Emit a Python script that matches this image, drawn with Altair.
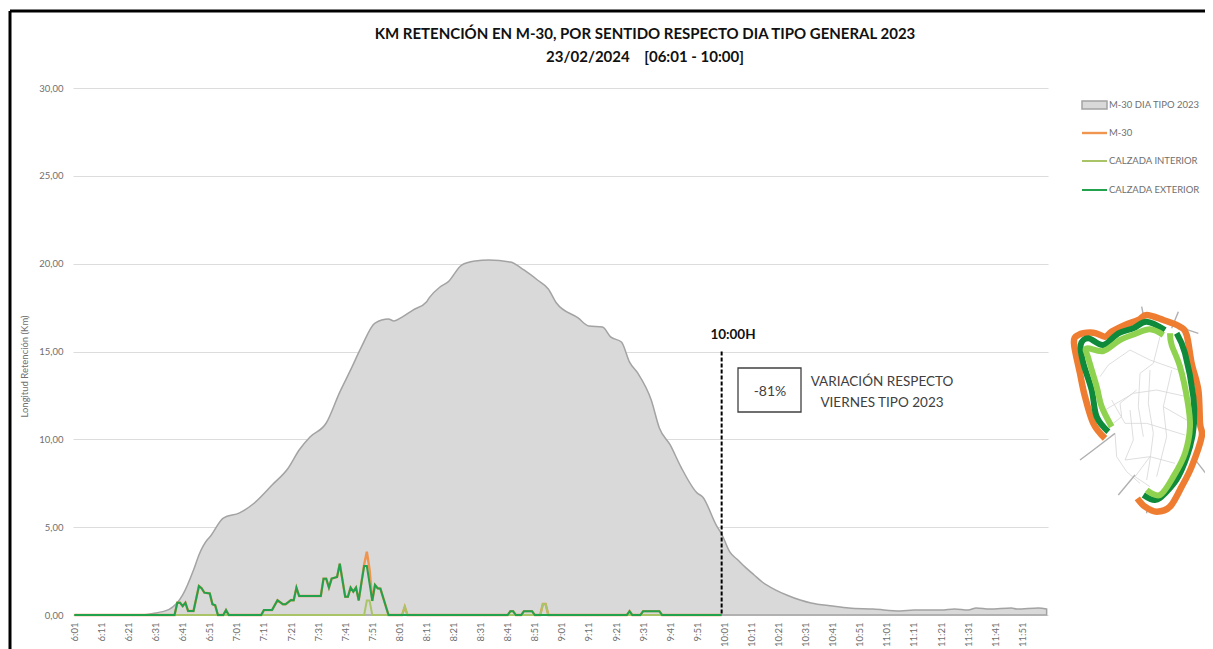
import altair as alt
import pandas as pd

# Clock labels: minute 0 = 6:01
tick_minutes = list(range(0, 360, 10))

base_min = [0, 24, 29, 35, 40, 44, 46, 49, 50, 55, 61, 66, 73, 79, 83, 87, 93, 98, 102, 106, 111, 116, 118, 121, 125, 130, 131, 135, 138, 143, 148, 153, 161, 166, 171, 175, 178, 186, 190, 195, 198, 202, 205, 208, 213, 216, 220, 224, 230, 232, 237, 239, 242, 245, 248, 251, 254, 259, 263, 268, 272, 280, 286, 295, 305, 310, 320, 325, 330, 333, 338, 346, 348, 356, 359]
base_km = [0, 0, 0.09, 0.32, 1.14, 2.56, 3.42, 4.27, 4.44, 5.52, 5.81, 6.32, 7.40, 8.37, 9.39, 10.13, 10.93, 12.69, 13.95, 15.26, 16.62, 16.85, 16.74, 16.96, 17.36, 17.82, 18.05, 18.67, 18.96, 19.92, 20.15, 20.21, 20.09, 19.64, 19.07, 18.56, 17.76, 16.91, 16.45, 16.39, 15.83, 15.54, 14.40, 13.78, 12.24, 10.65, 9.68, 8.42, 6.94, 6.72, 5.12, 4.61, 3.59, 3.13, 2.68, 2.28, 1.88, 1.42, 1.14, 0.85, 0.68, 0.51, 0.40, 0.34, 0.23, 0.28, 0.28, 0.34, 0.28, 0.40, 0.34, 0.40, 0.34, 0.40, 0.34]

ext_min = [0, 37, 38, 39, 40, 41, 42, 44, 46, 47, 48, 50, 51, 52, 53, 55, 56, 57, 69, 70, 73, 75, 77, 78, 80, 81, 82, 83, 91, 92, 93, 94, 95, 97, 98, 100, 101, 102, 103, 104, 105, 106, 107, 108, 110, 111, 112, 113, 116, 160, 161, 162, 163, 165, 166, 169, 170, 204, 205, 206, 209, 210, 216, 217, 239]
ext_km = [0, 0, 0.70, 0.70, 0.51, 0.70, 0.23, 0.23, 1.65, 1.52, 1.27, 1.23, 0.61, 0.55, 0, 0, 0.28, 0, 0, 0.28, 0.28, 0.84, 0.61, 0.61, 0.85, 0.84, 1.56, 1.08, 1.08, 2.07, 2.07, 1.56, 2.07, 2.16, 2.92, 1.04, 1.04, 1.56, 1.33, 1.56, 0.83, 1.84, 2.79, 2.79, 0.80, 1.71, 1.52, 1.50, 0, 0, 0.22, 0.22, 0, 0, 0.22, 0.22, 0, 0, 0.22, 0, 0, 0.22, 0.22, 0, 0]

int_min = [0, 107, 108, 109, 110, 121, 122, 123, 172, 173, 174, 175, 239]
int_km = [0, 0, 0.83, 0.83, 0, 0, 0.47, 0, 0, 0.63, 0.63, 0, 0]

m30_min = [0, 37, 38, 39, 40, 41, 42, 44, 46, 47, 48, 50, 51, 52, 53, 55, 56, 57, 69, 70, 73, 75, 77, 78, 80, 81, 82, 83, 91, 92, 93, 94, 95, 97, 98, 100, 101, 102, 103, 104, 105, 106, 107, 108, 109, 110, 111, 112, 113, 116, 121, 122, 123, 160, 161, 162, 163, 165, 166, 169, 170, 172, 173, 174, 175, 204, 205, 206, 209, 210, 216, 217, 239]
m30_km = [0, 0, 0.70, 0.70, 0.51, 0.70, 0.23, 0.23, 1.65, 1.52, 1.27, 1.23, 0.61, 0.55, 0, 0, 0.28, 0, 0, 0.28, 0.28, 0.84, 0.61, 0.61, 0.85, 0.84, 1.56, 1.08, 1.08, 2.07, 2.07, 1.56, 2.07, 2.16, 2.92, 1.04, 1.04, 1.56, 1.33, 1.56, 0.83, 1.84, 2.88, 3.60, 2.60, 0.80, 1.71, 1.52, 1.50, 0, 0, 0.47, 0, 0, 0.22, 0.22, 0, 0, 0.22, 0.22, 0, 0, 0.63, 0.63, 0, 0, 0.22, 0, 0, 0.22, 0.22, 0, 0]

legend_labels = ["M-30 DIA TIPO 2023", "M-30", "CALZADA INTERIOR", "CALZADA EXTERIOR"]

# Schematic map of the ring, in the map's own units
map_orange = [(165, 445), (130, 400), (105, 320), (90, 250), (72, 160), (85, 135), (130, 128), (165, 140), (185, 125), (225, 105), (265, 90), (290, 75), (340, 90), (390, 110), (410, 135), (425, 220), (445, 300), (450, 400), (455, 440), (425, 530), (395, 590), (360, 650), (320, 665), (285, 650), (262, 625)]
map_dark = [[(175, 425), (140, 380), (125, 300), (100, 220), (92, 165), (115, 145), (160, 165), (205, 130), (250, 115), (290, 95), (345, 120)],
            [(380, 130), (405, 190), (430, 320), (432, 400), (420, 470), (385, 560), (345, 610), (315, 630), (280, 615)]]
map_light = [[(185, 410), (155, 350), (140, 290), (115, 205), (110, 175), (160, 183), (210, 150), (255, 132), (300, 118), (340, 135)],
             [(360, 130), (365, 165), (390, 230), (412, 330), (420, 410), (405, 490), (370, 560), (330, 615), (290, 600)]]
map_spokes = [[(275, 50), (280, 75)], [(385, 65), (365, 115)], [(400, 115), (445, 130)],
              [(195, 430), (130, 480), (90, 510)], [(440, 515), (475, 560)], [(255, 555), (205, 615)], [(290, 650), (290, 670)]]
map_streets = [[(330, 140), (310, 220), (270, 250), (265, 350), (280, 440)],
               [(150, 260), (175, 225), (240, 180), (300, 210), (385, 240)],
               [(165, 360), (250, 310), (320, 300), (410, 320)],
               [(185, 330), (225, 400), (290, 400), (405, 435)],
               [(300, 240), (295, 340), (310, 430), (300, 510), (290, 570)],
               [(195, 430), (200, 500), (230, 545), (270, 580)],
               [(225, 510), (300, 500), (375, 520)],
               [(340, 350), (350, 440), (320, 560)],
               [(260, 300), (210, 340), (215, 380), (190, 400)],
               [(365, 240), (340, 350), (410, 390)],
               [(240, 360), (250, 450), (225, 510)],
               [(300, 500), (255, 560), (300, 590)]]


def series(mins, kms):
    return pd.DataFrame({"m": mins, "km": kms})


def poly(paths):
    rows = []
    for pid, path in enumerate(paths):
        for order, (px, py) in enumerate(path):
            rows.append({"id": pid, "o": order, "mx": px, "my": py})
    return pd.DataFrame(rows)


x_scale = alt.Scale(domain=[-0.5, 359.5], nice=False, zero=False)
y_scale = alt.Scale(domain=[0, 30], nice=False)
x_plain = alt.X("m:Q", scale=x_scale, axis=None)
y_plain = alt.Y("km:Q", scale=y_scale, axis=None)

x_axis = alt.Axis(
    values=tick_minutes, title=None, ticks=False, grid=False, labelAngle=-90, labelAlign="right", labelBaseline="middle",
    labelExpr="(floor((datum.value+361)/60)) + ':' + (((datum.value+1)%60) < 10 ? '0' : '') + ((datum.value+1)%60)",
    labelFont="Lato", labelFontSize=9.5, labelColor="#6f6f6f", labelPadding=7, labelOverlap=False,
    domain=False, labelFlush=False,
)
y_axis = alt.Axis(
    values=[0, 5, 10, 15, 20, 25, 30], title="Longitud Retención (Km)", ticks=False, domain=False,
    grid=True, gridColor="#dcdcdc", gridWidth=1,
    labelExpr="replace(format(datum.value, '.2f'), '.', ',')",
    labelFont="Lato", labelFontSize=9.5, labelColor="#6f6f6f", labelPadding=10,
    titleFont="Lato", titleFontSize=9.5, titleFontWeight="normal", titleColor="#6f6f6f",
    titleX=-44, titleY=278,
)

area = alt.Chart(series(base_min, base_km)).mark_area(
    color="#d9d9d9", stroke="#a3a3a3", strokeWidth=1.5, interpolate="monotone"
).encode(x=alt.X("m:Q", scale=x_scale, axis=x_axis), y=alt.Y("km:Q", scale=y_scale, axis=y_axis))


def line(mins, kms, color, width):
    return alt.Chart(series(mins, kms)).mark_line(color=color, strokeWidth=width).encode(x=x_plain, y=y_plain)


line_m30 = line(m30_min, m30_km, "#f0954f", 2.4)
line_int = line(int_min, int_km, "#a9c466", 2)
line_ext = line(ext_min, ext_km, "#22a24c", 2)

cut = alt.Chart(pd.DataFrame({"m": [239], "km": [15], "km0": [0]})).mark_rule(
    color="#000000", strokeWidth=2, strokeDash=[4, 2]
).encode(x=x_plain, y=y_plain, y2="km0:Q")

# map scales place the schematic to the right of the plot
mx_scale = alt.Scale(domain=[0, 489], range=[977, 1140], nice=False, zero=False)
my_scale = alt.Scale(domain=[0, 720], range=[202, 442], nice=False, zero=False)


def map_layer(paths, color, width, smooth=True):
    return alt.Chart(poly(paths)).mark_line(
        color=color, strokeWidth=width, strokeCap="butt", strokeJoin="round",
        interpolate="cardinal" if smooth else "linear", clip=False,
    ).encode(
        x=alt.X("mx:Q", scale=mx_scale, axis=None),
        y=alt.Y("my:Q", scale=my_scale, axis=None),
        detail="id:N",
        order="o:Q",
    )


def txt(s, x, y, size, color="#404040", bold=False, align="center", font="Lato"):
    return alt.Chart(pd.DataFrame({"t": [s]})).mark_text(
        fontSize=size, color=color, fontWeight="bold" if bold else "normal", align=align, baseline="middle", font=font
    ).encode(x=alt.value(x), y=alt.value(y), text="t:N")


ox, oy = 73, 88  # plot origin on the page
layers = [area, line_m30, line_int, line_ext, cut]

# frame
layers.append(alt.Chart().mark_rule(color="#000000", strokeWidth=3).encode(x=alt.value(10 - ox), x2=alt.value(1213 - ox), y=alt.value(11 - oy)))
layers.append(alt.Chart().mark_rule(color="#000000", strokeWidth=3).encode(x=alt.value(10 - ox), y=alt.value(11 - oy), y2=alt.value(649 - oy)))

# title and notes
layers.append(txt("KM RETENCIÓN EN M-30, POR SENTIDO RESPECTO DIA TIPO GENERAL 2023", 645 - ox, 34 - oy, 15, "#111111", True))
layers.append(txt("23/02/2024\u00a0\u00a0\u00a0\u00a0[06:01 - 10:00]", 645 - ox, 57 - oy, 15, "#111111", True))
layers.append(txt("10:00H", 733 - ox, 335 - oy, 13.5, "#111111", True))
layers.append(alt.Chart(pd.DataFrame({"t": ["box"]})).mark_rect(fill="#ffffff", stroke="#404040", strokeWidth=1.3).encode(
    x=alt.value(738 - ox), x2=alt.value(801 - ox), y=alt.value(368 - oy), y2=alt.value(412 - oy)))
layers.append(txt("-81%", 770 - ox, 392 - oy, 14))
layers.append(txt("VARIACIÓN RESPECTO", 882 - ox, 382 - oy, 13.5))
layers.append(txt("VIERNES TIPO 2023", 882 - ox, 403 - oy, 13.5))

# legend
layers.append(alt.Chart(pd.DataFrame({"t": ["key"]})).mark_rect(fill="#d9d9d9", stroke="#a3a3a3", strokeWidth=1.5).encode(
    x=alt.value(1082 - ox), x2=alt.value(1107 - ox), y=alt.value(101 - oy), y2=alt.value(109 - oy)))
for ly, color, w in zip([133, 161, 190], ["#f0954f", "#a9c466", "#22a24c"], [2.4, 2, 2]):
    layers.append(alt.Chart().mark_rule(color=color, strokeWidth=w).encode(
        x=alt.value(1082 - ox), x2=alt.value(1107 - ox), y=alt.value(ly - oy)))
for label, ly in zip(legend_labels, [105, 133, 161, 190]):
    layers.append(txt(label, 1109 - ox, ly - oy, 9.5, "#6f6f6f", align="left"))

# map
layers.append(map_layer(map_streets, "#d6d6d6", 0.8, smooth=False))
layers.append(map_layer(map_spokes, "#b0b0b0", 1.4, smooth=False))
layers.append(map_layer([map_orange], "#ee7d31", 6.5))
layers.append(map_layer(map_dark, "#0f8a3a", 6))
layers.append(map_layer(map_light, "#8fd24f", 6))

chart = alt.layer(*layers).resolve_scale(x="independent", y="independent").properties(
    width=975, height=527,
    autosize=alt.AutoSizeParams(type="none"),
    padding={"left": 65, "top": 80, "right": 157, "bottom": 34},
    background="#ffffff",
).configure_view(stroke=None)

chart.save("out.html", embed_options={"renderer": "svg", "actions": False})
